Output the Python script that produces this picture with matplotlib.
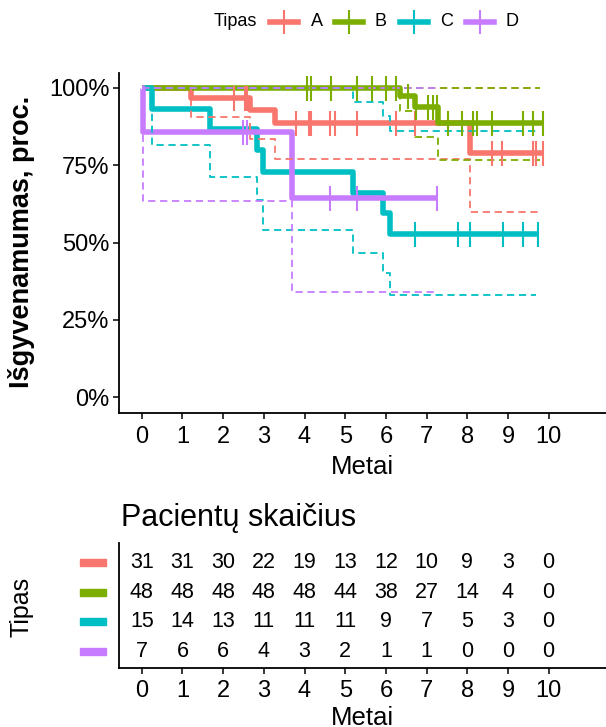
import matplotlib
matplotlib.use('Agg')
import numpy as np
import matplotlib.pyplot as plt
from matplotlib.lines import Line2D
from matplotlib.patches import Rectangle
import matplotlib.transforms as mtransforms

plt.rcParams['font.family'] = ['Liberation Sans', 'DejaVu Sans']

groups = ['A', 'B', 'C', 'D']
colors = ['#F8766D', '#7CAE00', '#00BFC4', '#C77CFF']

# Kaplan-Meier steps (years, survival)
a_time = [0, 1.2, 2.65, 3.27, 8.07]
a_surv = [1.0, 0.968, 0.929, 0.886, 0.788]
a_low = [1.0, 0.907, 0.835, 0.77, 0.60]
a_up = [1.0, 1.0, 1.0, 1.0, 1.0]
a_cens = [2.27, 2.54, 2.59, 3.79, 4.11, 4.17, 4.63, 4.75, 5.28, 6.26, 6.72,
          8.61, 8.85, 9.62, 9.70, 9.87]

b_time = [0, 6.34, 6.71, 7.28]
b_surv = [1.0, 0.975, 0.94, 0.886]
b_low = [1.0, 0.925, 0.84, 0.767]
b_up = [1.0, 1.0, 1.0, 1.0]
b_cens = [4.05, 4.17, 4.64, 5.28, 5.66, 6.0, 6.25, 6.54, 6.75, 7.03, 7.15,
          7.25, 7.52, 7.86, 8.15, 8.23, 8.62, 9.37, 9.62, 9.87]

c_time = [0, 0.24, 1.67, 2.82, 2.98, 5.2, 5.93, 6.1]
c_surv = [1.0, 0.933, 0.867, 0.8, 0.727, 0.661, 0.595, 0.529]
c_low = [1.0, 0.815, 0.712, 0.637, 0.54, 0.467, 0.40, 0.33]
c_up = [1.0, 1.0, 1.0, 1.0, 1.0, 0.956, 0.91, 0.86]
c_cens = [6.71, 7.78, 8.07, 8.87, 9.38, 9.73]

d_time = [0, 0.03, 3.68]
d_surv = [1.0, 0.857, 0.643]
d_low = [1.0, 0.635, 0.341]
d_up = [1.0, 1.0, 1.0]
d_cens = [2.49, 2.59, 4.62, 5.28, 7.26]

ends = [9.87, 9.87, 9.73, 7.26]
ci_ends = [9.74, 9.80, 9.70, 7.25]

# risk table
risk_times = [0, 1, 2, 3, 4, 5, 6, 7, 8, 9, 10]
risk_a = [31, 31, 30, 22, 19, 13, 12, 10, 9, 3, 0]
risk_b = [48, 48, 48, 48, 48, 44, 38, 27, 14, 4, 0]
risk_c = [15, 14, 13, 11, 11, 11, 9, 7, 5, 3, 0]
risk_d = [7, 6, 6, 4, 3, 2, 1, 1, 0, 0, 0]

times = [a_time, b_time, c_time, d_time]
survs = [a_surv, b_surv, c_surv, d_surv]
lows = [a_low, b_low, c_low, d_low]
ups = [a_up, b_up, c_up, d_up]
cens = [a_cens, b_cens, c_cens, d_cens]
risks = [risk_a, risk_b, risk_c, risk_d]

W, H = 606, 727
fig = plt.figure(figsize=(W / 100, H / 100), dpi=100)

ax = fig.add_axes([119 / W, 1 - 412.5 / H, 487 / W, 340 / H])


def step(ax, t, v, end, **kw):
    x = list(t) + [end]
    y = list(v) + [v[-1]]
    ax.step(x, y, where='post', **kw)


# survival curves
for i in range(4):
    step(ax, times[i], survs[i], ends[i], color=colors[i], lw=4.0,
         solid_joinstyle='round', solid_capstyle='butt', zorder=2)

# confidence bands (dashed steps)
for i in range(4):
    for band in (lows[i], ups[i]):
        step(ax, times[i], band, ci_ends[i], color=colors[i], lw=1.3,
             linestyle=(0, (4, 2.6)), zorder=3)

# censor marks
for i in range(4):
    t = np.array(times[i])
    s = np.array(survs[i])
    c = np.array(cens[i])
    idx = np.searchsorted(t, c, side='right') - 1
    ax.plot(c, s[idx], linestyle='none', marker='|', markersize=18,
            markeredgewidth=1.5, color=colors[i], zorder=4)

ax.set_xlim(-0.56, 11.41)
ax.set_ylim(-0.05, 1.05)
ax.set_xticks(range(0, 11))
ax.set_yticks([0, 0.25, 0.5, 0.75, 1.0])
ax.set_yticklabels(['0%', '25%', '50%', '75%', '100%'])
for sp in ['top', 'right']:
    ax.spines[sp].set_visible(False)
for sp in ['left', 'bottom']:
    ax.spines[sp].set_linewidth(1.3)
ax.tick_params(labelsize=17, length=4, width=1.1, pad=3, colors='black')
ax.tick_params(axis='x', pad=5.5)
ax.set_xlabel('Metai', fontsize=18.5, labelpad=5)
fig.text(22 / W, 1 - 242 / H, 'Išgyvenamumas, proc.', rotation=90,
         fontsize=19.5, fontweight='bold', ha='center', va='center')

# legend on top
ly = 1 - 22 / H
fig.text(235 / W, ly, 'Tipas', fontsize=13, ha='center', va='center')
key_x = [283.5, 348.5, 414, 480]
lab_x = [317, 381, 447, 512]
for i in range(4):
    fig.add_artist(Line2D([(key_x[i] - 14) / W, (key_x[i] + 14) / W], [ly, ly],
                          transform=fig.transFigure, color=colors[i], lw=4.0))
    fig.add_artist(Line2D([key_x[i] / W], [ly], transform=fig.transFigure,
                          marker='|', markersize=17, markeredgewidth=1.5,
                          color=colors[i]))
    fig.text(lab_x[i] / W, ly, groups[i], fontsize=13, ha='center', va='center')

# risk table
tx = fig.add_axes([119 / W, 1 - 667.7 / H, 487 / W, (667.7 - 543.3) / H])
tx.set_xlim(-0.56, 11.41)
tx.set_ylim(0.46, 4.64)
for i in range(4):
    row = 4 - i
    for t, n in zip(risk_times, risks[i]):
        tx.text(t, row, str(n), fontsize=15.5, ha='center', va='center')
    trans = mtransforms.blended_transform_factory(tx.transAxes, tx.transData)
    tx.add_patch(Rectangle((-39 / 487, row - 0.12), 26 / 487, 0.24,
                           transform=trans, color=colors[i], clip_on=False))
tx.set_xticks(range(0, 11))
tx.set_yticks([])
for sp in ['top', 'right']:
    tx.spines[sp].set_visible(False)
for sp in ['left', 'bottom']:
    tx.spines[sp].set_linewidth(1.3)
tx.tick_params(labelsize=17, length=4, width=1.1, pad=4.5, colors='black')
tx.set_xlabel('Metai', fontsize=18.5, labelpad=3)
fig.text(121 / W, 1 - 518 / H, 'Pacientų skaičius', fontsize=22,
         ha='left', va='center')
fig.text(21 / W, 1 - 607 / H, 'Tipas', rotation=90, fontsize=18,
         ha='center', va='center')

fig.savefig('out.png', dpi=100)
